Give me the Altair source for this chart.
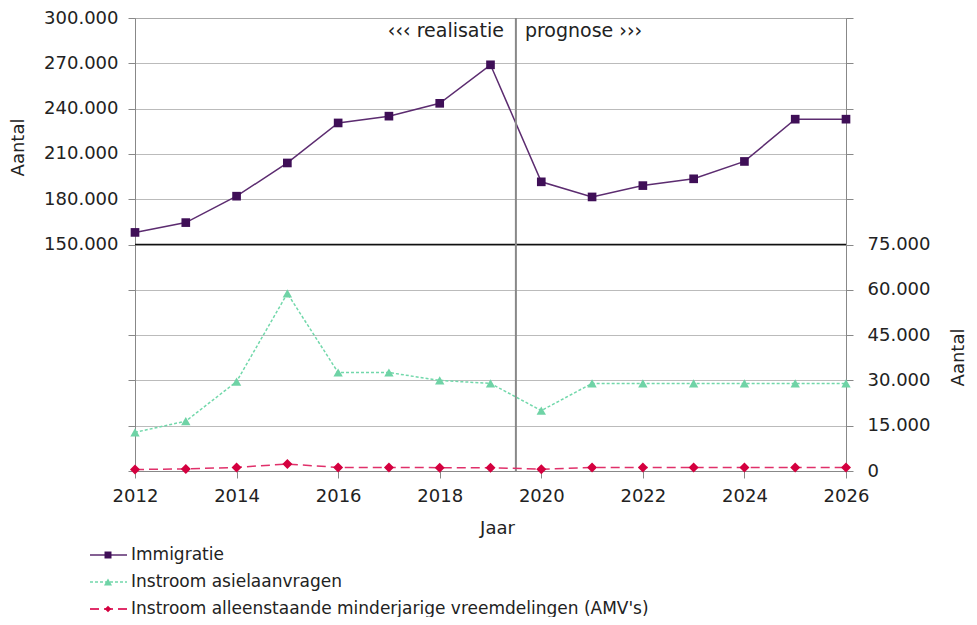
import altair as alt
import pandas as pd

years = list(range(2012, 2027))
immigratie = [158000, 164500, 182000, 204000, 230500, 235000, 243500, 269000,
              191500, 181500, 189000, 193500, 205000, 233000, 233000]
asiel = [12800, 16500, 29600, 58800, 32600, 32600, 30000, 29000,
         20000, 29000, 29000, 29000, 29000, 29000, 29000]
amv = [500, 700, 1200, 2300, 1200, 1200, 1100, 1100,
       600, 1200, 1200, 1200, 1200, 1200, 1200]

series_names = ["Immigratie", "Instroom asielaanvragen",
                "Instroom alleenstaande minderjarige vreemdelingen (AMV's)"]
line_colors = ["#5c2c70", "#72d8ab", "#e0306a"]
point_colors = ["#3f0f57", "#6fd3a6", "#d4003f"]
shapes = ["square", "triangle-up", "diamond"]
dashes = [[1, 0], [3, 2], [9, 5]]
widths = [1.5, 1.5, 2]
sizes = [75, 100, 65]

split_year = 2019.5
left_label_min = 150000
right_label_max = 75000

FONT = "DejaVu Sans"
W, H = 711, 453
LBL = 18

x_enc = alt.X("jaar:Q", scale=alt.Scale(domain=[2012, 2026], nice=False, zero=False),
              axis=alt.Axis(values=list(range(2012, 2027, 2)), format="d", title="Jaar",
                            titleX=362, titleY=57, titleBaseline="middle",
                            labelFontSize=LBL, titleFontSize=18, labelFont=FONT, titleFont=FONT,
                            labelColor="#222", titleColor="#222", titleFontWeight="normal",
                            tickSize=7, labelPadding=9, domainColor="#888", tickColor="#888",
                            grid=False, labelFlush=False))

df_imm = pd.DataFrame({"jaar": years, "waarde": immigratie, "serie": series_names[0]})
df_rest = pd.concat([
    pd.DataFrame({"jaar": years, "waarde": asiel, "serie": series_names[1]}),
    pd.DataFrame({"jaar": years, "waarde": amv, "serie": series_names[2]}),
])

left_y = alt.Y("waarde:Q", scale=alt.Scale(domain=[0, 300000], nice=False),
               axis=alt.Axis(orient="left", values=list(range(0, 300001, 30000)),
                             labelExpr=f"datum.value >= {left_label_min} ? replace(format(datum.value, ',d'), ',', '.') : ''",
                             title="Aantal", titleAngle=270, titleX=-117, titleY=129,
                             titleAlign="center", titleBaseline="middle",
                             labelFontSize=LBL, titleFontSize=18, labelFont=FONT, titleFont=FONT,
                             labelColor="#222", titleColor="#222", titleFontWeight="normal",
                             tickSize=7, labelPadding=10, domainColor="#888", tickColor="#888",
                             grid=True, gridColor="#777", gridDash=[1, 1], gridWidth=1))

right_y = alt.Y("waarde:Q", scale=alt.Scale(domain=[0, 150000], nice=False),
                axis=alt.Axis(orient="right", values=list(range(0, 150001, 15000)),
                              labelExpr=f"datum.value <= {right_label_max} ? (datum.value == 0 ? '0' : replace(format(datum.value, ',d'), ',', '.')) : ''",
                              title="Aantal", titleAngle=270, titleX=112, titleY=339,
                              titleAlign="center", titleBaseline="middle",
                              labelFontSize=LBL, titleFontSize=18, labelFont=FONT, titleFont=FONT,
                              labelColor="#222", titleColor="#222", titleFontWeight="normal",
                              tickSize=7, labelPadding=14, domainColor="#888", tickColor="#888",
                              grid=False))

cmap = alt.Scale(domain=series_names, range=line_colors)
pmap = alt.Scale(domain=series_names, range=point_colors)
smap = alt.Scale(domain=series_names, range=shapes)
dmap = alt.Scale(domain=series_names, range=dashes)
szmap = alt.Scale(domain=series_names, range=sizes)

imm_line = alt.Chart(df_imm).mark_line(strokeWidth=widths[0], color=line_colors[0]).encode(x=x_enc, y=left_y)
imm_pts = alt.Chart(df_imm).mark_point(filled=True, shape=shapes[0], size=sizes[0], opacity=1,
                                       color=point_colors[0]).encode(x="jaar:Q", y="waarde:Q")

base_rule = alt.Chart(pd.DataFrame({"v": [left_label_min]})).mark_rule(
    color="#111", strokeWidth=1.6).encode(y="v:Q")
split_rule = alt.Chart(pd.DataFrame({"j": [split_year]})).mark_rule(
    color="#888", strokeWidth=2).encode(x="j:Q")

txt_df = pd.DataFrame({"j": [split_year, split_year], "v": [300000, 300000],
                       "t": ["‹‹‹ realisatie", "prognose ›››"],
                       "side": ["l", "r"]})
txt_l = alt.Chart(txt_df[txt_df.side == "l"]).mark_text(
    align="right", baseline="middle", dx=-12, dy=13, font=FONT, fontSize=19, color="#222"
).encode(x="j:Q", y="v:Q", text="t:N")
txt_r = alt.Chart(txt_df[txt_df.side == "r"]).mark_text(
    align="left", baseline="middle", dx=9, dy=13, font=FONT, fontSize=19, color="#222"
).encode(x="j:Q", y="v:Q", text="t:N")

# legend rows (drawn below the plot)
leg_layers = []
leg_df = pd.DataFrame({"serie": series_names})
for i, name in enumerate(series_names):
    row = leg_df[leg_df.serie == name]
    ypx = 537 + 27 * i
    leg_layers.append(alt.Chart(row).mark_rule(
        color=line_colors[i], strokeWidth=widths[i], strokeDash=dashes[i]
    ).encode(x=alt.value(-45), x2=alt.value(-8), y=alt.value(ypx)))
    leg_layers.append(alt.Chart(row).mark_point(
        filled=True, shape=shapes[i], size=sizes[i] * 0.65, opacity=1, color=point_colors[i]
    ).encode(x=alt.value(-27), y=alt.value(ypx)))
    leg_layers.append(alt.Chart(row).mark_text(
        align="left", baseline="middle", font=FONT, fontSize=17, color="#222"
    ).encode(x=alt.value(-4), y=alt.value(ypx), text="serie:N"))

left_layer = alt.layer(imm_line, imm_pts, base_rule, split_rule, txt_l, txt_r, *leg_layers)

rest_line = alt.Chart(df_rest).mark_line().encode(
    x="jaar:Q", y=right_y,
    color=alt.Color("serie:N", scale=cmap, legend=None),
    strokeDash=alt.StrokeDash("serie:N", scale=dmap, legend=None),
    strokeWidth=alt.StrokeWidth("serie:N", scale=alt.Scale(domain=series_names, range=widths), legend=None),
)
rest_pts = alt.Chart(df_rest).mark_point(filled=True, opacity=1).encode(
    x="jaar:Q", y="waarde:Q",
    fill=alt.Fill("serie:N", scale=pmap, legend=None),
    shape=alt.Shape("serie:N", scale=smap, legend=None),
    size=alt.Size("serie:N", scale=szmap, legend=None),
)
right_layer = alt.layer(rest_line, rest_pts)

chart = alt.layer(left_layer, right_layer).resolve_scale(
    y="independent", color="independent", fill="independent"
).properties(
    width=W, height=H,
    autosize=alt.AutoSizeParams(type="none"),
    padding={"left": 127, "top": 10, "right": 123, "bottom": 146},
).configure_view(stroke="#888", strokeWidth=1).configure(background="white")

chart.save("out.html", embed_options={"renderer": "svg", "actions": False})
